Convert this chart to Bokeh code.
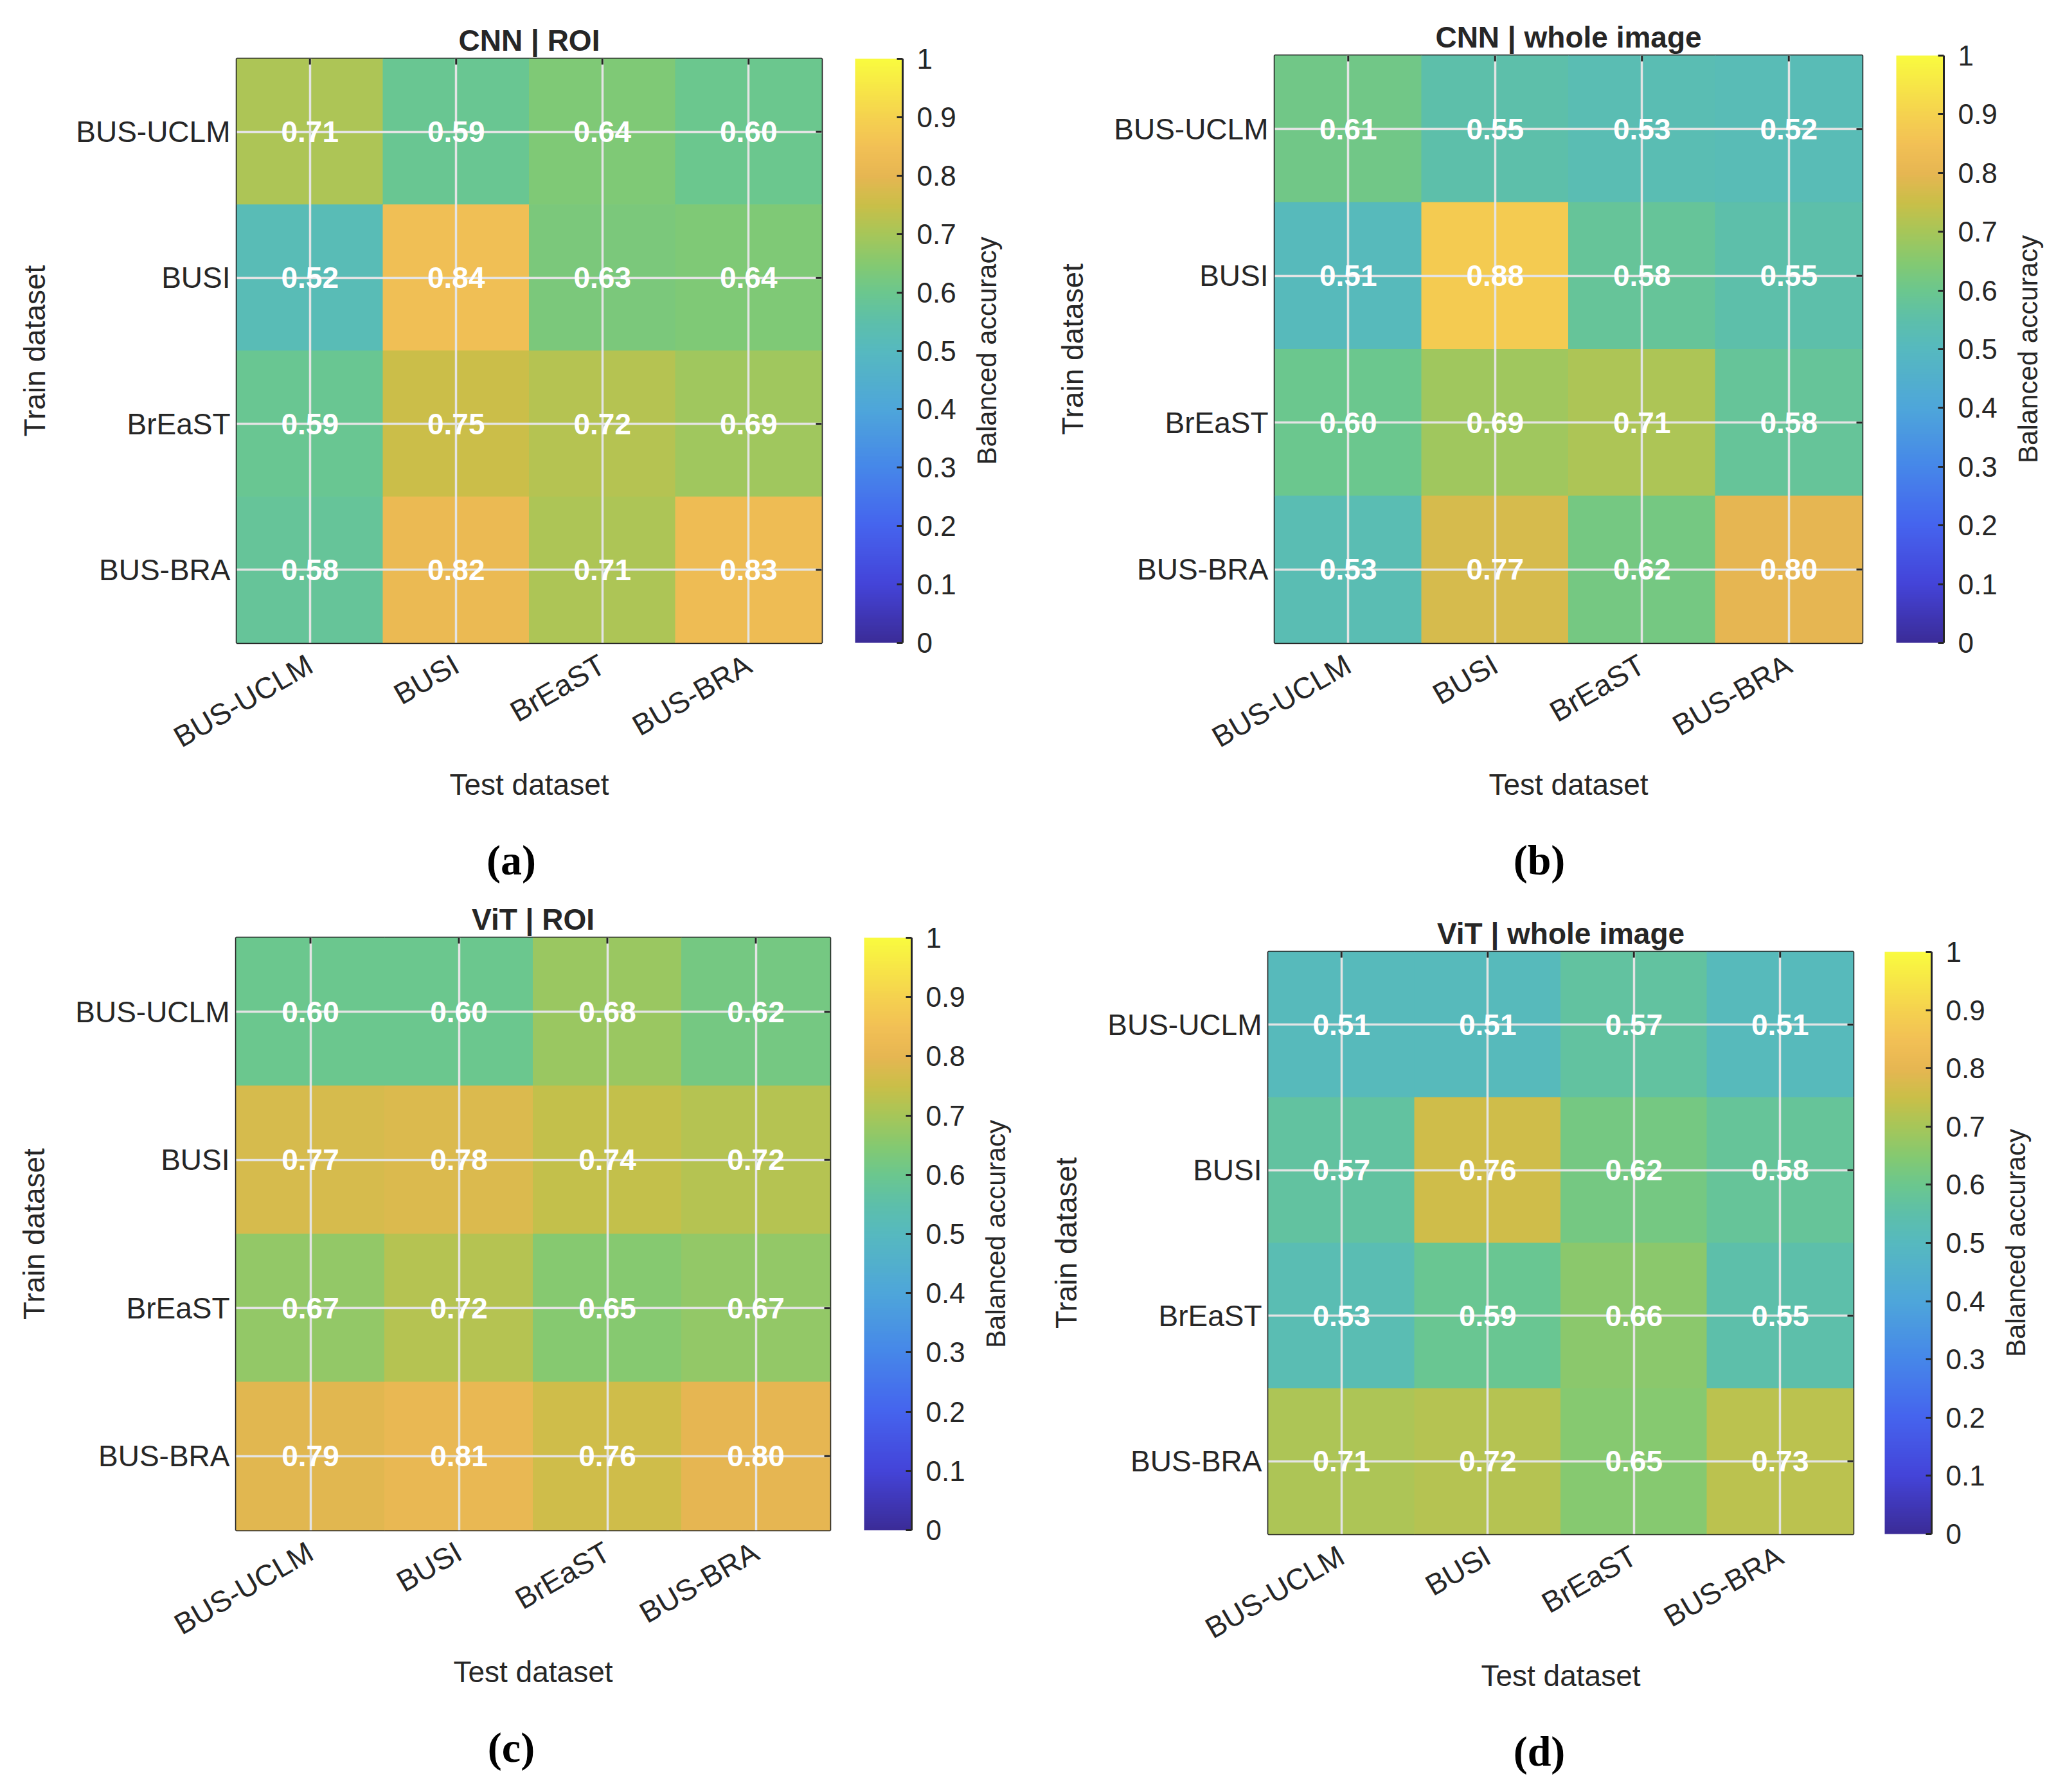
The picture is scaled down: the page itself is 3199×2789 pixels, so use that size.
import numpy as np
from math import pi

from bokeh.plotting import figure
from bokeh.models import (FactorRange, Range1d, LinearColorMapper, ColorBar, FixedTicker,
                          NumeralTickFormatter, ColumnDataSource)
from bokeh.layouts import row, column
from bokeh.embed import file_html
from bokeh.resources import INLINE
from bokeh.transform import linear_cmap, dodge
from bokeh.core.properties import value

# ---------------------------------------------------------------- data
datasets = ["BUS-UCLM", "BUSI", "BrEaST", "BUS-BRA"]   # train rows / test columns

cnn_roi = [
    [0.71, 0.59, 0.64, 0.60],
    [0.52, 0.84, 0.63, 0.64],
    [0.59, 0.75, 0.72, 0.69],
    [0.58, 0.82, 0.71, 0.83],
]
cnn_whole = [
    [0.61, 0.55, 0.53, 0.52],
    [0.51, 0.88, 0.58, 0.55],
    [0.60, 0.69, 0.71, 0.58],
    [0.53, 0.77, 0.62, 0.80],
]
vit_roi = [
    [0.60, 0.60, 0.68, 0.62],
    [0.77, 0.78, 0.74, 0.72],
    [0.67, 0.72, 0.65, 0.67],
    [0.79, 0.81, 0.76, 0.80],
]
vit_whole = [
    [0.51, 0.51, 0.57, 0.51],
    [0.57, 0.76, 0.62, 0.58],
    [0.53, 0.59, 0.66, 0.55],
    [0.71, 0.72, 0.65, 0.73],
]

panel_titles = ["CNN | ROI", "CNN | whole image", "ViT | ROI", "ViT | whole image"]
panel_captions = ["(a)", "(b)", "(c)", "(d)"]
colorbar_label = "Balanced accuracy"
colorbar_ticks = [0, 0.1, 0.2, 0.3, 0.4, 0.5, 0.6, 0.7, 0.8, 0.9, 1.0]

# ---------------------------------------------------------------- colormap (parula-like)
cmap_stops = [0.00, 0.10, 0.20, 0.30, 0.40, 0.50, 0.55, 0.60, 0.65, 0.70,
              0.75, 0.80, 0.85, 0.90, 1.00]
cmap_colors = ["#3b2c98", "#4444d9", "#4564ee", "#4687e9", "#4ea6da", "#56b9bf",
               "#5dbfaa", "#6bc78e", "#85c970", "#a6c659", "#c9bf48", "#e6b652",
               "#f2c055", "#f5d14f", "#f9fa3f"]
_rgb = np.array([[int(h[i:i + 2], 16) for i in (1, 3, 5)] for h in cmap_colors], float)
_t = np.linspace(0, 1, 256)
palette = ["#%02x%02x%02x" % tuple(int(round(np.interp(tt, cmap_stops, _rgb[:, k])))
                                   for k in range(3)) for tt in _t]

# ---------------------------------------------------------------- styling
SANS = "Liberation Sans"
SERIF = "Liberation Serif"
INK = "#262626"
GRID = "#e4e4e4"
TICK_LEN = 9
BOTTOM_MAIN = 290     # room under each box for the tick labels and axis title
LABEL_W = 80          # width of the strip holding the colour bar title
CAPTION_DROP = 338    # caption centre below the box

# per panel: frame left, frame top, frame w, frame h, canvas w, canvas h, colorbar gap, colorbar w
geometry = [
    (368, 91, 910, 909, 1600, 1380, 52, 74),
    (383, 86, 914, 914, 1599, 1380, 53, 74),
    (367, 79, 924, 922, 1600, 1409, 53, 74),
    (373, 101, 910, 906, 1599, 1409, 49, 73),
]


def bare_figure(xr, yr, fw, fh, left, right, top, bottom):
    f = figure(x_range=xr, y_range=yr, frame_width=fw, frame_height=fh,
               min_border_left=left, min_border_right=right,
               min_border_top=top, min_border_bottom=bottom,
               x_axis_type=None, y_axis_type=None, title=None,
               output_backend="svg", toolbar_location=None, tools="",
               background_fill_color="white", border_fill_color="white")
    f.outline_line_color = None
    return f


def heatmap_panel(matrix, title, caption, geom):
    left, top, fw, fh, W, H, gap, cbw = geom
    xs, ys, vals, labels = [], [], [], []
    for i, train in enumerate(datasets):
        for j, test in enumerate(datasets):
            xs.append(test)
            ys.append(train)
            vals.append(matrix[i][j])
            labels.append("%.2f" % matrix[i][j])
    src = ColumnDataSource(dict(test=xs, train=ys, val=vals, label=labels))

    bar_right = gap + cbw                       # from the right edge of the box
    right_main = bar_right + 131 - LABEL_W // 2

    p = figure(x_range=FactorRange(factors=datasets),
               y_range=FactorRange(factors=datasets[::-1]),
               frame_width=fw, frame_height=fh,
               min_border_left=left, min_border_top=top,
               min_border_right=right_main, min_border_bottom=BOTTOM_MAIN,
               output_backend="svg", toolbar_location=None, tools="",
               background_fill_color="white", border_fill_color="white")

    # title above the box
    p.title.text = title
    p.title.align = "center"
    p.title.text_font = SANS
    p.title.text_font_style = "bold"
    p.title.text_font_size = "46px"
    p.title.text_color = INK
    p.title.standoff = 6

    cmap = linear_cmap("val", palette, 0, 1)
    p.rect(x="test", y="train", width=1, height=1, source=src,
           fill_color=cmap, line_color=cmap, line_width=1)

    txt = p.text(x="test", y="train", text="label", source=src,
                 text_color="white", text_font=value(SANS), text_font_style="bold",
                 text_font_size="46px", text_align="center", text_baseline="middle")
    txt.level = "overlay"

    # grid lines through the cell centres, drawn over the cells
    for g in (p.xgrid, p.ygrid):
        g.grid_line_color = GRID
        g.grid_line_width = 3.5
        g.level = "guide"

    p.outline_line_color = INK
    p.outline_line_width = 3.5

    for ax in (p.xaxis[0], p.yaxis[0]):
        ax.axis_line_color = None
        ax.major_tick_in = TICK_LEN
        ax.major_tick_out = 0
        ax.major_tick_line_color = INK
        ax.major_tick_line_width = 3
        ax.major_label_text_font = SANS
        ax.major_label_text_font_size = "46px"
        ax.major_label_text_color = INK
        ax.axis_label_text_font = SANS
        ax.axis_label_text_font_size = "46px"
        ax.axis_label_text_font_style = "normal"
        ax.axis_label_text_color = INK
    p.xaxis.major_label_orientation = pi / 6
    p.xaxis.major_label_standoff = 30
    p.yaxis.major_label_standoff = 10
    p.xaxis.axis_label = "Test dataset"
    p.xaxis.axis_label_standoff = -4
    p.yaxis.axis_label = "Train dataset"
    p.yaxis.axis_label_standoff = 35

    # inward tick marks on the top and right sides of the box
    tx = TICK_LEN / (fw / len(datasets))
    ty = TICK_LEN / (fh / len(datasets))
    top_src = ColumnDataSource(dict(x=datasets, yref=[datasets[0]] * len(datasets)))
    r = p.segment(x0="x", x1="x",
                  y0=dodge("yref", 0.5, range=p.y_range),
                  y1=dodge("yref", 0.5 - ty, range=p.y_range),
                  source=top_src, line_color=INK, line_width=3)
    r.level = "overlay"
    right_src = ColumnDataSource(dict(y=datasets, xref=[datasets[-1]] * len(datasets)))
    r = p.segment(y0="y", y1="y",
                  x0=dodge("xref", 0.5, range=p.x_range),
                  x1=dodge("xref", 0.5 - tx, range=p.x_range),
                  source=right_src, line_color=INK, line_width=3)
    r.level = "overlay"

    # colour bar
    mapper = LinearColorMapper(palette=palette, low=0, high=1)
    cb = ColorBar(color_mapper=mapper, location=(fw + gap, 0), width=cbw, height=fh,
                  padding=0, margin=0,
                  ticker=FixedTicker(ticks=colorbar_ticks),
                  formatter=NumeralTickFormatter(format="0.[0]"),
                  major_label_text_font=SANS, major_label_text_font_size="44px",
                  major_label_text_color=INK, label_standoff=22,
                  major_tick_in=9, major_tick_out=0,
                  major_tick_line_color=INK, major_tick_line_width=3,
                  minor_tick_line_color=None, bar_line_color=None,
                  background_fill_color=None, border_line_color=None)
    p.add_layout(cb)

    # dark edge on the right side of the colour bar
    edge = ColorBar(color_mapper=LinearColorMapper(palette=[INK, INK], low=0, high=1),
                    location=(fw + gap + cbw - 1.5, 0), width=3, height=fh,
                    padding=0, margin=0, ticker=FixedTicker(ticks=[]),
                    major_tick_line_color=None, minor_tick_line_color=None,
                    bar_line_color=None, background_fill_color=None,
                    border_line_color=None)
    p.add_layout(edge)

    # strip to the right holding the colour bar title
    lab = bare_figure(Range1d(0, 1), Range1d(0, 1), LABEL_W, fh, 0,
                      W - left - fw - right_main - LABEL_W, top, BOTTOM_MAIN)
    lab.text(x=[0.5], y=[0.5], text=[colorbar_label], angle=pi / 2,
             text_font=value(SANS), text_font_size="42px", text_color=INK,
             text_align="center", text_baseline="middle")

    # strip below holding the panel caption
    cap_h = H - top - fh - BOTTOM_MAIN
    cap = bare_figure(Range1d(0, W), Range1d(0, cap_h), W, cap_h, 0, 0, 0, 0)
    cap.text(x=[W / 2 - 5], y=[cap_h - (CAPTION_DROP - BOTTOM_MAIN)], text=[caption],
             text_font=value(SERIF), text_font_style="bold", text_font_size="66px",
             text_color="black", text_align="center", text_baseline="middle")

    return column(row(p, lab), cap)


matrices = [cnn_roi, cnn_whole, vit_roi, vit_whole]
panels = [heatmap_panel(m, t, c, g)
          for m, t, c, g in zip(matrices, panel_titles, panel_captions, geometry)]

layout = column(row(panels[0], panels[1]), row(panels[2], panels[3]))

with open("out.html", "w") as f:
    f.write(file_html(layout, INLINE))
